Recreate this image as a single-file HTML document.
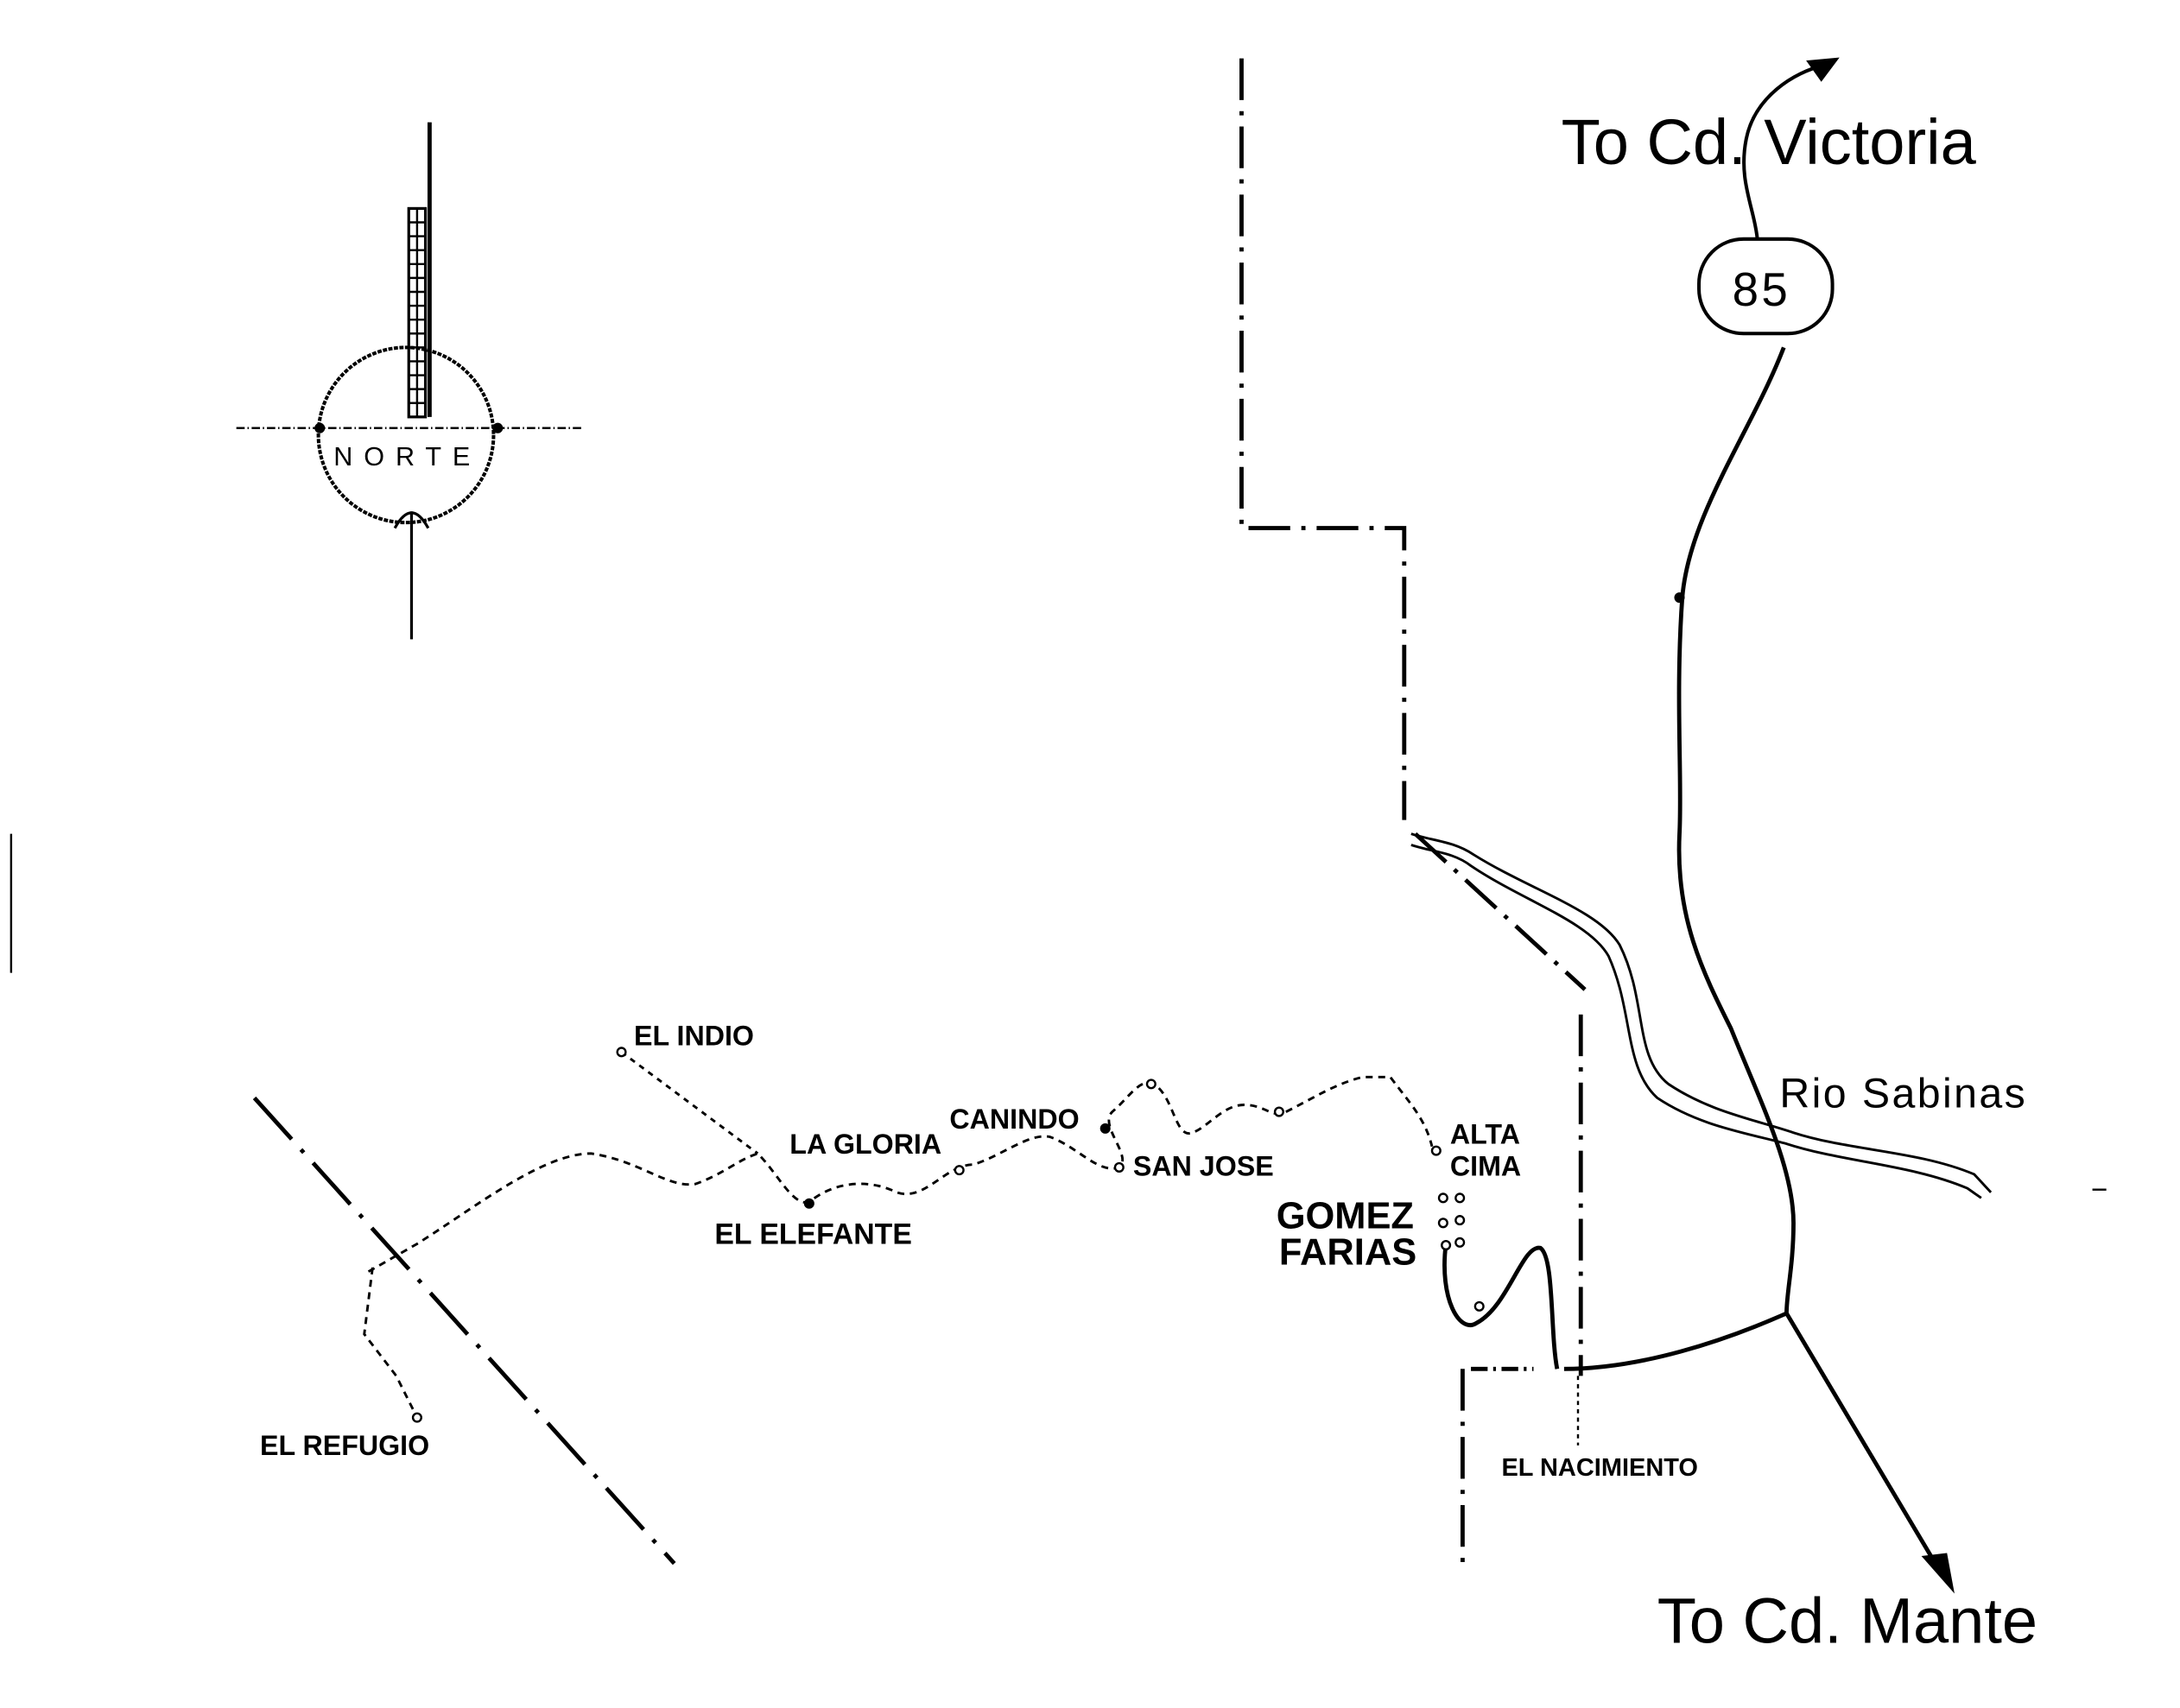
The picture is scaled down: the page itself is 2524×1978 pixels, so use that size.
<!DOCTYPE html>
<html><head><meta charset="utf-8"><style>
html,body{margin:0;padding:0;background:#fff;}
svg{display:block;}
text{font-family:"Liberation Sans",sans-serif;fill:#000;}
.b{font-weight:bold;}
</style></head><body>
<svg width="2524" height="1978" viewBox="0 0 1568 1229" preserveAspectRatio="none" xmlns="http://www.w3.org/2000/svg">
<rect width="1568" height="1229" fill="#fff"/>
<g fill="none" stroke="#000">
<circle cx="292" cy="313" r="63" stroke-width="2.5" stroke-dasharray="3 1"/>
<line x1="170" y1="308" x2="418" y2="308" stroke-width="1.5" stroke-dasharray="6 2 1 2"/>
<line x1="309" y1="88" x2="309" y2="300" stroke-width="3"/>
<rect x="294" y="150" width="12" height="150" stroke-width="2"/>
<path d="M294 160h12M294 170h12M294 180h12M294 190h12M294 200h12M294 210h12M294 220h12M294 230h12M294 240h12M294 250h12M294 260h12M294 270h12M294 280h12M294 290h12M300 150v150" stroke-width="1.5"/>
<line x1="296" y1="368" x2="296" y2="460" stroke-width="2"/>
<path d="M284 380 Q296 358 308 380" stroke-width="2"/>
<path d="M893 42V380H1010V590" stroke-width="3" stroke-dasharray="30 8 3 8"/>
<path d="M1018 600L1140 712" stroke-width="3" stroke-dasharray="30 8 3 8"/>
<path d="M1137 730V990" stroke-width="3" stroke-dasharray="30 8 3 8"/>
<path d="M1058 985H1103" stroke-width="3" stroke-dasharray="12 4 2 4"/>
<path d="M1052 985V1130" stroke-width="3" stroke-dasharray="30 8 3 8"/>
<path d="M1135 990V1040" stroke-width="1.5" stroke-dasharray="3 3"/>
<path d="M183 790L485 1125" stroke-width="3" stroke-dasharray="40 10 3 10"/>
<path d="M1312 47 C1290 52 1262 70 1256 100 C1250 130 1262 150 1264 172" stroke-width="2.5"/>
<path d="M1322 42 L1300 44 L1310 58 Z" fill="#000"/>
<rect x="1222" y="172" width="96" height="68" rx="32" stroke-width="2.5"/>
<path d="M1283 250 C1260 310 1215 370 1210 430 C1205 500 1210 560 1208 600 C1205 660 1225 700 1245 740 C1265 790 1290 840 1290 880 C1290 910 1285 930 1285 945 L1395 1130" stroke-width="3"/>
<path d="M1383 1120 L1405 1145 L1400 1118 Z" fill="#000"/>
<path d="M1285 945 C1240 965 1180 985 1125 985" stroke-width="3"/>
<path d="M1040 895 C1035 935 1050 960 1062 952 C1085 940 1095 895 1108 898 C1118 905 1115 960 1120 985" stroke-width="3"/>
<path d="M1015 600 C1030 605 1045 605 1060 615 C1100 640 1150 655 1165 680 C1185 720 1175 760 1200 780 C1230 800 1260 805 1290 815 C1330 828 1380 828 1420 845 L1432 858" stroke-width="1.8"/>
<path d="M1015 608 C1030 613 1045 613 1058 623 C1095 648 1143 663 1157 688 C1175 728 1168 768 1192 790 C1222 810 1255 815 1285 823 C1325 836 1375 838 1415 855 L1425 862" stroke-width="1.8"/>
<path d="M265 915 L300 895 C340 870 390 830 425 830 C460 835 480 855 500 852 C520 845 530 835 545 830 C560 845 570 868 582 865 C600 850 625 848 645 858 C665 865 680 838 700 838 C720 832 740 815 755 818 C775 825 790 845 805 840 C815 832 790 810 800 800 C812 790 820 775 830 780 C845 790 845 820 858 815 C870 810 880 795 895 795 C910 795 915 805 925 800 C945 790 960 780 980 775 L1000 775 C1015 795 1025 805 1030 825" stroke-width="1.8" stroke-dasharray="5 4"/>
<path d="M447 757 L545 830" stroke-width="1.8" stroke-dasharray="4 4"/>
<path d="M268 912 L262 960 L285 990 L300 1020" stroke-width="1.8" stroke-dasharray="5 4"/>
<line x1="8" y1="600" x2="8" y2="700" stroke-width="1.5"/>
<line x1="1505" y1="856" x2="1515" y2="856" stroke-width="1.5"/>
</g>
<g fill="#fff" stroke="#000" stroke-width="1.5">
<circle cx="447" cy="757" r="3"/><circle cx="582" cy="866" r="3" fill="#000"/><circle cx="690" cy="842" r="3"/>
<circle cx="795" cy="812" r="3" fill="#000"/><circle cx="805" cy="840" r="3"/><circle cx="828" cy="780" r="3"/>
<circle cx="920" cy="800" r="3"/><circle cx="1033" cy="828" r="3"/><circle cx="1064" cy="940" r="3"/><circle cx="300" cy="1020" r="3"/>
<circle cx="1038" cy="862" r="3"/><circle cx="1050" cy="862" r="3"/><circle cx="1038" cy="880" r="3"/><circle cx="1050" cy="878" r="3"/><circle cx="1040" cy="896" r="3"/><circle cx="1050" cy="894" r="3"/>
<circle cx="230" cy="308" r="3" fill="#000"/><circle cx="358" cy="308" r="3" fill="#000"/><circle cx="1208" cy="430" r="3" fill="#000"/>
</g>
<text x="240" y="335" font-size="19" letter-spacing="8">NORTE</text>
<text x="1123" y="118" font-size="46">To Cd. Victoria</text>
<text x="1246" y="220" font-size="34" letter-spacing="2">85</text>
<text x="1192" y="1182" font-size="46">To Cd. Mante</text>
<text x="1280" y="797" font-size="30" letter-spacing="1.5">Rio Sabinas</text>
<g class="b" font-size="20">
<text x="456" y="752">EL INDIO</text>
<text x="568" y="830">LA GLORIA</text>
<text x="683" y="812">CANINDO</text>
<text x="815" y="846">SAN JOSE</text>
<text x="514" y="895" font-size="21">EL ELEFANTE</text>
<text x="1043" y="823">ALTA</text>
<text x="1043" y="846">CIMA</text>
<text x="187" y="1047">EL REFUGIO</text>
<text x="1080" y="1062" font-size="18">EL NACIMIENTO</text>
</g>
<text x="918" y="884" class="b" font-size="27">GOMEZ</text>
<text x="920" y="910" class="b" font-size="27">FARIAS</text>
</svg>
</body></html>
